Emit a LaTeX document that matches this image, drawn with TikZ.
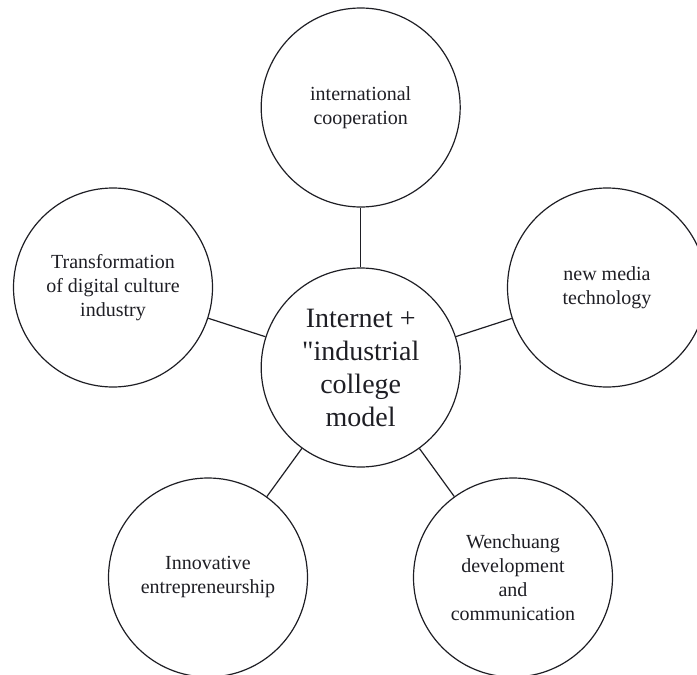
\documentclass[tikz,border=0pt]{standalone}
\usepackage{fontspec}
\setmainfont{Liberation Serif}[Ligatures=TeXOff]
\usepackage{tikz}
\definecolor{ink}{RGB}{30,30,36}
\tikzset{
	bubble/.style={draw=ink, text=ink, circle, line width=1.2pt, minimum size=199pt, inner sep=0pt, align=center, font=\fontsize{20}{24}\selectfont},
	link/.style={draw=ink, line width=1.2pt}
}

\begin{document}
\begin{tikzpicture}[x=1pt,y=-1pt]
	\clip (0,0) rectangle (697,675);

	\node[bubble, font=\fontsize{28}{33}\selectfont] (O) at (360.7,367.5) {Internet +\\"industrial\\college\\model};
	\node[bubble] (A) at (360.7,107.5) {international\\cooperation};
	\node[bubble] (B) at (607,287.5) {new media\\technology};
	\node[bubble] (C) at (513,577.5) {Wenchuang\\development\\and\\communication};
	\node[bubble] (D) at (208,577.5) {Innovative\\entrepreneurship};
	\node[bubble] (E) at (113,287.5) {Transformation\\of digital culture\\industry};

	\draw[link] (O) -- (A);
	\draw[link] (O) -- (B);
	\draw[link] (O) -- (C);
	\draw[link] (O) -- (D);
	\draw[link] (O) -- (E);
\end{tikzpicture}
\end{document}
